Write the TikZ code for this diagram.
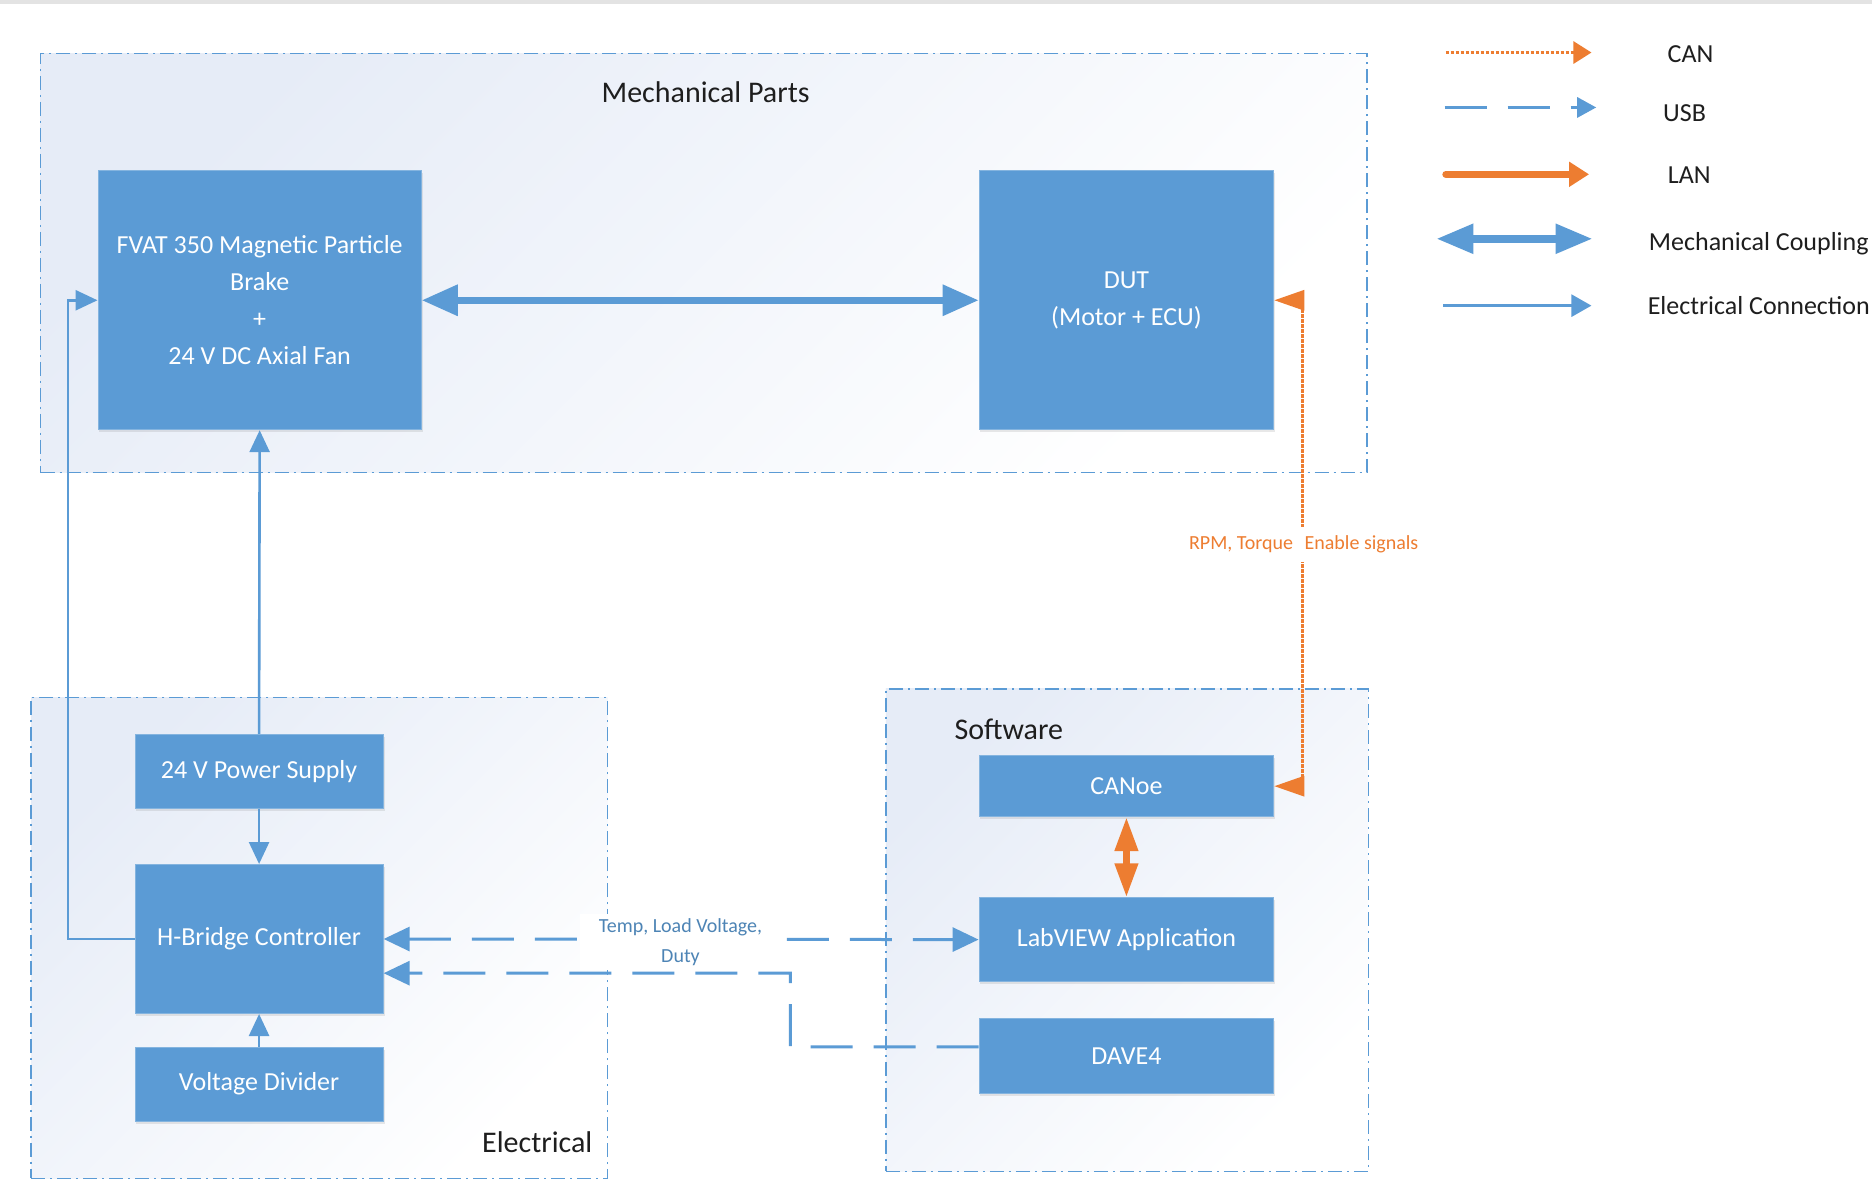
\documentclass[tikz,border=0pt]{standalone}
\usepackage{fontspec}
\setmainfont{Carlito}
\usetikzlibrary{arrows.meta,fit,shadows,calc}
\definecolor{cBox}{HTML}{5B9BD5}
\definecolor{cOr}{HTML}{ED7D31}
\definecolor{cBg}{HTML}{E6ECF7}
\definecolor{cTxt}{HTML}{1E1E1E}
\begin{document}
\begin{tikzpicture}[x=1.1939pt,y=-1.1939pt,
  blk/.style 2 args={rectangle, inner sep=0pt, minimum width=#1, minimum height=#2,
    fill=cBox, draw=cBox!75!white, line width=0.8pt,
    text=white, align=center, font=\fontsize{26}{37}\selectfont,
    drop shadow={shadow xshift=1.5pt, shadow yshift=-2.5pt, opacity=0.18}},
  grp/.style={rectangle, inner sep=0pt, draw=cBox, line width=1.4pt,
    dash pattern=on 14pt off 5pt on 2pt off 5pt,
    top color=cBg, bottom color=white, shading angle=45},
  ttl/.style={text=cTxt, font=\fontsize{30}{36}\selectfont, inner sep=0pt},
  lgd/.style={text=cTxt, font=\fontsize{26}{30}\selectfont, inner sep=0pt},
  econ/.style={draw=cBox, line width=2.6pt, -{Triangle[length=22pt,width=20pt]}},
  mechc/.style={draw=cBox, line width=6.5pt, {Triangle[length=36pt,width=30pt]}-{Triangle[length=36pt,width=30pt]}},
  usb/.style={draw=cBox, line width=3pt, dash pattern=on 42pt off 21pt},
  usbtip/.style={-{Triangle[length=26pt,width=24pt]}},
  can/.style={draw=cOr, line width=3pt, dash pattern=on 3.5pt off 1.5pt},
  lan/.style={draw=cOr, line width=7pt},
  elab/.style={fill=white, align=center, font=\fontsize{20}{30}\selectfont}
]
\clip (0,0) rectangle (1568,993);
\fill[white] (0,0) rectangle (1568,993);
\fill[gray!22] (0,0) rectangle (1568,3.5);

% containers
\node[grp, fit={(34,45) (1145,396)}] (mech) {};
\node[grp, fit={(26,584) (509,987)}] (elec) {};
\node[grp, fit={(742,577) (1146,981)}] (soft) {};
\node[ttl] (tmech) at (591,77) {Mechanical Parts};
\node[ttl] (tsoft) at (845,611) {Software};
\node[ttl] (telec) at (450,957) {Electrical};

% blocks
\node[blk={323.5pt}{259.1pt}] (FVAT) at (217.5,251.5) {FVAT 350 Magnetic Particle\\Brake\\+\\24 V DC Axial Fan};
\node[blk={294.9pt}{259.1pt}] (DUT) at (943.5,251.5) {DUT\\(Motor + ECU)};
\node[blk={248.3pt}{74pt}] (PS) at (217,646) {24 V Power Supply};
\node[blk={248.3pt}{149.2pt}] (HB) at (217,786.5) {H-Bridge Controller};
\node[blk={248.3pt}{74pt}] (VD) at (217,908) {Voltage Divider};
\node[blk={294.9pt}{60.9pt}] (CAN) at (943.5,658.5) {CANoe};
\node[blk={294.9pt}{83.6pt}] (LV) at (943.5,787) {LabVIEW Application};
\node[blk={294.9pt}{75.2pt}] (DAVE) at (943.5,884.5) {DAVE4};

% mechanical coupling
\draw[mechc] (FVAT.east) -- (DUT.west);

% electrical connections
\draw[econ] (PS.north) -- (FVAT.south);
\draw[econ] (PS.south) -- (HB.north);
\draw[econ] (VD.north) -- (HB.south);
\coordinate (lk) at (57,251.5);
\draw[econ] (HB.west) -| (lk) -- (FVAT.west);

% CAN
\coordinate (c1) at (1091,251.5);
\coordinate (c2) at (1091,658.5);
\draw[can, {Triangle[length=30pt,width=20pt]}-{Triangle[length=30pt,width=20pt]}] (DUT.east) -- (c1) -- (c2) -- (CAN.east);
\node[elab, text=cOr, inner xsep=2pt, inner ysep=9pt] (lcan) at (1092,456) {RPM, Torque\hspace{7pt} Enable signals};

% LAN
\draw[lan, {Triangle[length=34pt,width=22pt]}-{Triangle[length=34pt,width=22pt]}] (CAN.south) -- (LV.north);

% USB
\draw[usb, {Triangle[length=26pt,width=24pt]}-{Triangle[length=26pt,width=24pt]}] (HB.east) -- (LV.west);
\node[elab, text=cBox!85!black, inner xsep=19pt, inner ysep=4pt] (lusb) at (570,789) {Temp, Load Voltage,\\Duty};
\coordinate (d4) at ($(DAVE.north west)!0.38!(DAVE.south west)$);
\coordinate (hb2) at ($(HB.north east)!0.728!(HB.south east)$);
\coordinate (u2) at (662,815);
\draw[usb, usbtip] (d4) -| (u2) -- (hb2);

% legend
\coordinate (la1) at (1211,44);  \coordinate (la2) at (1333,44);
\coordinate (lb1) at (1210,90);  \coordinate (lb2) at (1337,90);
\coordinate (lc1) at (1211,146); \coordinate (lc2) at (1331,146);
\coordinate (ld1) at (1203,200); \coordinate (ld2) at (1334,200);
\coordinate (le1) at (1209,256); \coordinate (le2) at (1333,256);
\draw[can, -{Triangle[length=18pt,width=22pt]}] (la1) -- (la2);
\draw[usb, -{Triangle[length=19pt,width=20pt]}] (lb1) -- (lb2);
\draw[lan, line cap=round, -{Triangle[length=20pt,width=24pt]}] (lc1) -- (lc2);
\draw[draw=cBox, line width=8pt, {Triangle[length=37pt,width=28pt]}-{Triangle[length=37pt,width=28pt]}] (ld1) -- (ld2);
\draw[draw=cBox, line width=2.7pt, -{Triangle[length=20pt,width=22pt]}] (le1) -- (le2);
\node[lgd] (ta) at (1416,45) {CAN};
\node[lgd] (tb) at (1411,95) {USB};
\node[lgd] (tc) at (1415,147) {LAN};
\node[lgd, anchor=west] (td) at (1381,204) {Mechanical Coupling};
\node[lgd, anchor=west] (te) at (1380,256) {Electrical Connection};
\end{tikzpicture}
\end{document}
